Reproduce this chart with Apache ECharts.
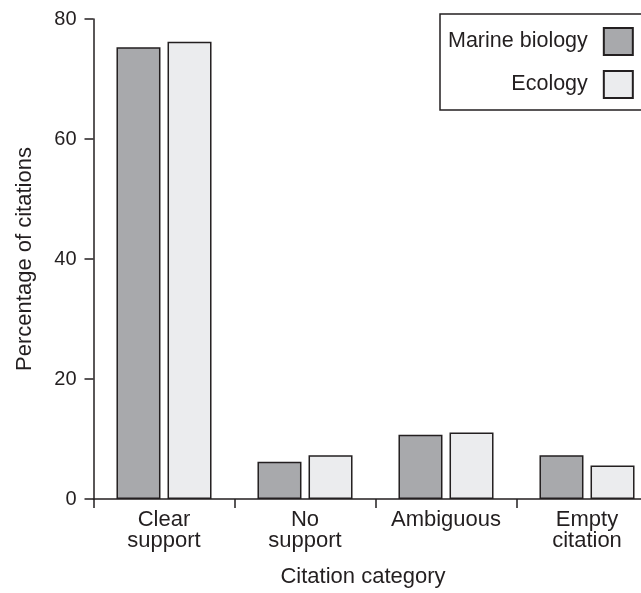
<!DOCTYPE html>
<html>
<head>
<meta charset="utf-8">
<script src="https://cdn.jsdelivr.net/npm/echarts@6/dist/echarts.min.js"></script>
<style>
  html, body { margin: 0; padding: 0; background: #fff; }
  #chart { width: 641px; height: 593px; }
</style>
</head>
<body>
<div id="chart"></div>
<script>
const categories = ["Clear\nsupport", "No\nsupport", "Ambiguous", "Empty\ncitation"];
const marineBiology = [75.3, 6.2, 10.7, 7.3];
const ecology = [76.2, 7.3, 11.1, 5.6];
const yTicks = [0, 20, 40, 60, 80];

const INK = "#231f20";
const FONT = "'Liberation Sans', Arial, Helvetica, sans-serif";

const chart = echarts.init(document.getElementById("chart"));

chart.setOption({
  animation: false,
  textStyle: { fontFamily: FONT, color: INK },
  grid: {
    left: 93.5,
    top: 19,
    right: -16.5,
    bottom: 94,
    containLabel: false,
    outerBoundsMode: "none",
  },
  legend: {
    orient: "vertical",
    left: 440,
    top: 14,
    align: "right",
    padding: [13, 14, 11, 8],
    itemGap: 14,
    itemWidth: 29,
    itemHeight: 27,
    icon: "rect",
    borderColor: INK,
    borderWidth: 1.5,
    borderRadius: 0,
    formatter: (name) => "{a|" + name + "}",
    textStyle: {
      rich: {
        a: {
          width: 151,
          align: "right",
          padding: [0, 11, 0, 0],
          fontSize: 21.5,
          fontFamily: FONT,
          color: INK,
        },
      },
    },
  },
  xAxis: {
    type: "category",
    data: categories,
    axisLine: { show: true, lineStyle: { color: INK, width: 1.5 } },
    axisTick: {
      show: true,
      interval: 0,
      length: 9,
      lineStyle: { color: INK, width: 1.5 },
    },
    axisLabel: {
      interval: 0,
      hideOverlap: false,
      fontSize: 22,
      lineHeight: 21,
      margin: 10,
      color: INK,
      fontFamily: FONT,
    },
  },
  yAxis: {
    type: "value",
    min: 0,
    max: 80,
    interval: 20,
    name: "Percentage of citations",
    nameLocation: "middle",
    nameGap: 58,
    nameTextStyle: { fontSize: 22, color: INK, fontFamily: FONT },
    axisLine: { show: true, lineStyle: { color: INK, width: 1.5 } },
    axisTick: { show: true, length: 9, lineStyle: { color: INK, width: 1.5 } },
    axisLabel: {
      fontSize: 20,
      margin: 17,
      color: INK,
      fontFamily: FONT,
      formatter: (v) => (yTicks.includes(v) ? String(v) : ""),
    },
    splitLine: { show: false },
  },
  graphic: [
    {
      type: "text",
      x: 363,
      y: 577,
      style: {
        text: "Citation category",
        fontSize: 22,
        fontFamily: FONT,
        fill: INK,
        align: "center",
        verticalAlign: "middle",
      },
    },
  ],
  series: [
    {
      name: "Marine biology",
      type: "bar",
      data: marineBiology,
      barWidth: 44,
      barGap: "16%",
      itemStyle: { color: "#a8a9ac", borderColor: INK, borderWidth: 1.5 },
    },
    {
      name: "Ecology",
      type: "bar",
      data: ecology,
      barWidth: 44,
      barGap: "16%",
      itemStyle: { color: "#ebecee", borderColor: INK, borderWidth: 1.5 },
    },
  ],
});
</script>
</body>
</html>
